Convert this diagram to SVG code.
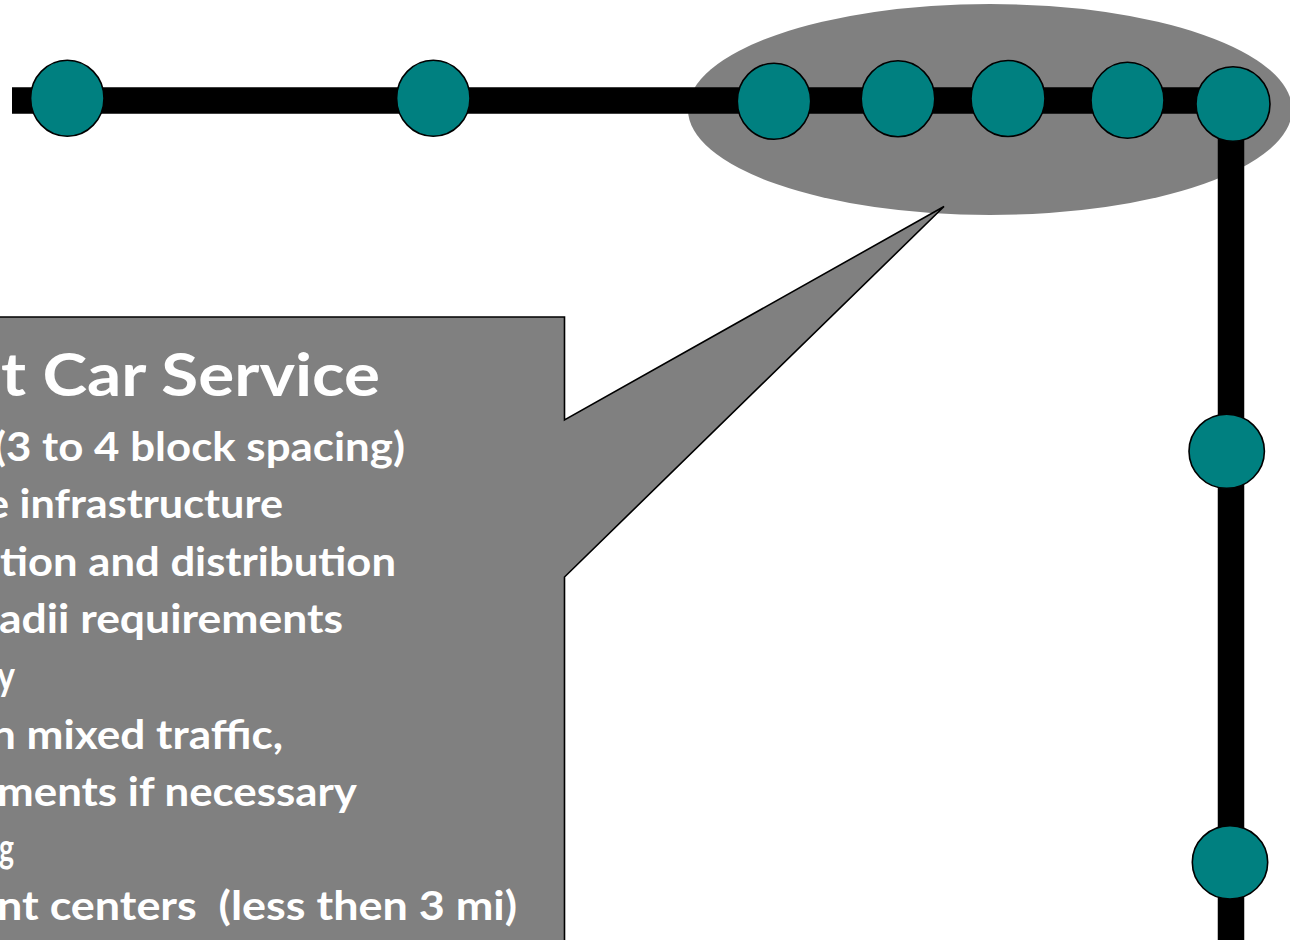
<svg xmlns="http://www.w3.org/2000/svg" width="1290" height="940" viewBox="0 0 1290 940">
<style>
.stn{fill:#008080;stroke:#000;stroke-width:1.6}
.track{fill:none;stroke:#000;stroke-width:26.5;stroke-linejoin:miter}
.t{font-family:Lato,"Open Sans","Liberation Sans",sans-serif;font-weight:bold;fill:#fff}
.title{font-size:60px}
.body{font-size:40px}
</style>
<rect width="1290" height="940" fill="#fff"/>
<g id="highlight">
<ellipse cx="990" cy="109.5" rx="302" ry="105.5" fill="#808080"/>
</g>
<g id="connectors">
<polyline class="track" points="12,100.5 1231,100.5 1231,945"/>
</g>
<g id="stations">
<g id="s1"><ellipse class="stn" cx="67.3" cy="98.3" rx="36.7" ry="38"/></g>
<g id="s2"><ellipse class="stn" cx="433.3" cy="98.3" rx="36.7" ry="38"/></g>
<g id="s3"><ellipse class="stn" cx="774" cy="101.3" rx="36.7" ry="38"/></g>
<g id="s4"><ellipse class="stn" cx="898" cy="98.7" rx="36.8" ry="38"/></g>
<g id="s5"><ellipse class="stn" cx="1008" cy="98.5" rx="37" ry="38"/></g>
<g id="s6"><ellipse class="stn" cx="1127.5" cy="100.3" rx="36.5" ry="38"/></g>
<g id="s7"><ellipse class="stn" cx="1233" cy="104" rx="37" ry="37.3"/></g>
<g id="s8"><ellipse class="stn" cx="1226.7" cy="451.3" rx="37.7" ry="37"/></g>
<g id="s9"><ellipse class="stn" cx="1230" cy="862.3" rx="37.7" ry="36.7"/></g>
</g>
<g id="callout">
<path d="M -10,317 H 564.5 V 420 L 944,206.5 L 564.5,577 V 950 H -10 Z" fill="#808080" stroke="#000" stroke-width="1.6" stroke-linejoin="miter"/>
<text class="t title" x="1" y="396" textLength="379" lengthAdjust="spacingAndGlyphs">t Car Service</text>
<text class="t body" x="-6" y="461" textLength="411" lengthAdjust="spacingAndGlyphs">(3 to 4 block spacing)</text>
<text class="t body" x="-14" y="518" textLength="297" lengthAdjust="spacingAndGlyphs">e infrastructure</text>
<text class="t body" x="0" y="576" textLength="396" lengthAdjust="spacingAndGlyphs">tion and distribution</text>
<text class="t body" x="-1" y="633" textLength="344" lengthAdjust="spacingAndGlyphs">adii requirements</text>
<text class="t body" x="-3" y="690" textLength="18" lengthAdjust="spacingAndGlyphs">y</text>
<text class="t body" x="-9" y="749" textLength="292" lengthAdjust="spacingAndGlyphs">n mixed traffic,</text>
<text class="t body" x="-3" y="806" textLength="360" lengthAdjust="spacingAndGlyphs">ments if necessary</text>
<text class="t body" x="-1" y="862" textLength="15" lengthAdjust="spacingAndGlyphs">g</text>
<text class="t body" x="-3" y="920" textLength="520" lengthAdjust="spacingAndGlyphs" xml:space="preserve">nt centers  (less then 3 mi)</text>
</g>
</svg>
